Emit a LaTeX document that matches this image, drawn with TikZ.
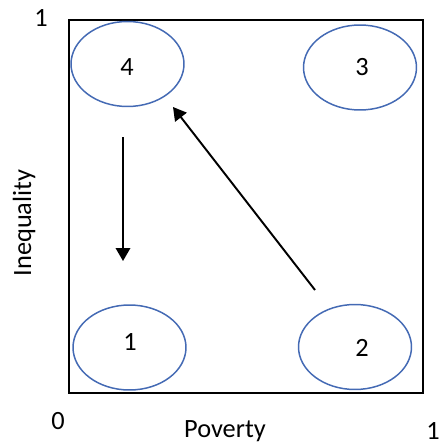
\documentclass[tikz,border=0pt]{standalone}
\usepackage{fontspec}
\setmainfont{Carlito}
\usetikzlibrary{arrows.meta,shapes.geometric}
\definecolor{ringblue}{RGB}{68,106,180}

\begin{document}
\begin{tikzpicture}[
  x=0.02cm, y=-0.02cm,
  quad/.style={draw=ringblue,line width=0.85pt,ellipse,minimum width=2.26cm,minimum height=1.7cm,inner sep=0pt},
  arr/.style={-{Triangle[length=2.6mm,width=2.9mm]},line width=1.1pt},
  lbl/.style={font=\fontsize{15}{17}\selectfont,inner sep=0pt}
]
\useasboundingbox (0,0) rectangle (444,446);
\draw[line width=1.2pt] (69,20) rectangle (423,393);
\node[quad] (q4) at (127.5,64) {};
\node[quad] (q3) at (360,67.5) {};
\node[quad] (q1) at (129.5,347.5) {};
\node[quad] (q2) at (355,347) {};
\node[lbl] at (127,67) {4};
\node[lbl] at (362,67) {3};
\node[lbl] at (130,342) {1};
\node[lbl] at (362,348) {2};
% axis labels
\node[lbl] (ymax) at (41,18) {1};
\node[lbl] (orig) at (58,421) {0};
\node[lbl] (xmax) at (433,431) {1};
\node[lbl] (xlab) at (225,431) {Poverty};
\node[lbl,rotate=90] (ylab) at (24,223) {Inequality};
% movements
\coordinate (a1) at (123,137);
\coordinate (a2) at (123,261);
\coordinate (b1) at (315,290);
\coordinate (b2) at (173,107);
\draw[arr] (a1) -- (a2);
\draw[arr] (b1) -- (b2);
\end{tikzpicture}
\end{document}
